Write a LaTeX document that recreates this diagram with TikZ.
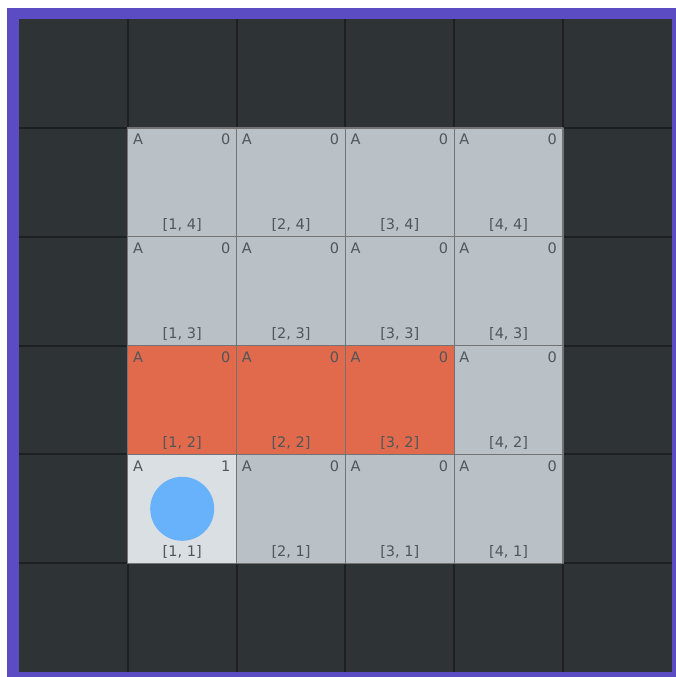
\documentclass[tikz,border=0pt]{standalone}
\usepackage{fontspec}
\setmainfont{DejaVu Sans}
\definecolor{frame}{RGB}{91,76,196}
\definecolor{wall}{RGB}{46,52,54}
\definecolor{wallline}{RGB}{28,32,34}
\definecolor{floor}{RGB}{186,193,198}
\definecolor{start}{RGB}{218,223,227}
\definecolor{lava}{RGB}{226,106,76}
\definecolor{agent}{RGB}{104,178,252}
\definecolor{txt}{RGB}{80,86,90}
\tikzset{
  cell/.style={minimum size=108.8pt, inner sep=0pt, outer sep=0pt, draw=black!55, line width=1.2pt},
  tag/.style={font=\fontsize{14.5}{14.5}\selectfont, text=txt, inner sep=0pt},
}
\begin{document}
\begin{tikzpicture}[x=1pt, y=1pt, declare function={s=108.8;}, line join=round]
	\useasboundingbox (0,0) rectangle (676,677);
	\fill[white] (0,0) rectangle (676,677);
	\fill[frame] (7,0) rectangle (676,669);
	\path (19,5) coordinate (O) ++({6*s},{6*s}) coordinate (T);
	% walls
	\fill[wall] (O) rectangle (T);
	\foreach \k in {1,...,5}{
		\draw[wallline, line width=2pt] ({19+\k*s},5) -- ++(0,{6*s});
		\draw[wallline, line width=2pt] (19,{5+\k*s}) -- ++({6*s},0);
	}
	% floor
	\foreach \i in {1,...,4}
	\foreach \j in {1,...,4}{
		\def\c{floor}\def\r{0}
		\ifnum\j=2 \ifnum\i<4 \def\c{lava}\fi\fi
		\ifnum\i\j=11 \def\c{start}\def\r{1}\fi
		\node[cell, fill=\c] (c\i\j) at ({19+(\i+.5)*s},{5+(\j+.5)*s}) {};
		\node[tag, anchor=north west] (a\i\j) at ([shift={(5,-6)}]c\i\j.north west) {A};
		\node[tag, anchor=north east] (r\i\j) at ([shift={(-6,-6)}]c\i\j.north east) {\r};
		\node[tag, anchor=south] (p\i\j) at ([shift={(0,5)}]c\i\j.south) {[\i, \j]};
	}
	\node[circle, fill=agent, minimum size=64pt, inner sep=0pt] (agent) at (c11.center) {};
\end{tikzpicture}
\end{document}
